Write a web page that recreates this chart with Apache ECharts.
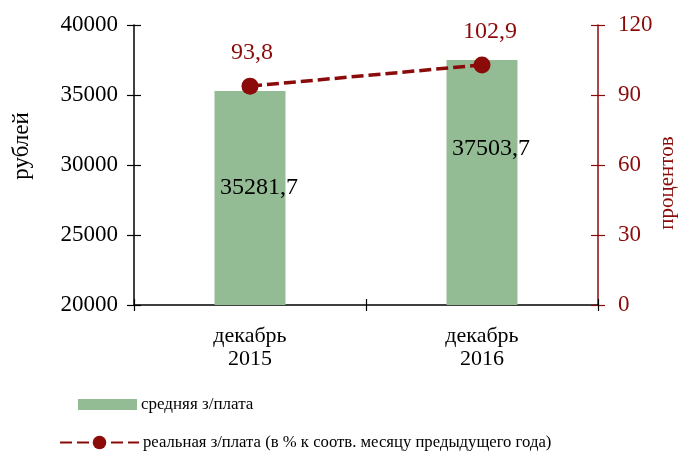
<!DOCTYPE html>
<html><head><meta charset="utf-8">
<script src="https://cdn.jsdelivr.net/npm/echarts@6/dist/echarts.min.js"></script>
<style>html,body{margin:0;padding:0;background:#fff}#c{width:678px;height:452px}</style>
</head><body><div id="c"></div>
<script>
const categories = ['декабрь\n2015', 'декабрь\n2016'];
const avgWage = [35281.7, 37503.7];
const realWage = [93.8, 102.9];
const leftTicks = [20000, 40000, 5000];
const rightTicks = [0, 120, 30];
const seriesNames = ['средняя з/плата', 'реальная з/плата (в % к соотв. месяцу предыдущего года)'];

const FONT = '"Liberation Serif", "Times New Roman", serif';
const GREEN = '#94bc94';
const RED = '#8b0a0a';
const barLabelOffsets = [[9, -10], [9, -34]];
const lineLabelOffsets = [[2, 0], [8, 0]];
const fmt = v => String(v).replace('.', ',');

const gridBox = { left: 134, right: 80, top: 25, bottom: 147 };
const hiddenLine = { show: true, lineStyle: { color: '#fff', opacity: 0 } };
const innerTick = (color, len) => ({ show: true, inside: true, length: len, lineStyle: { color: color, width: 1.2 } });

const chart = echarts.init(document.getElementById('c'));
chart.setOption({
  animation: false,
  textStyle: { fontFamily: FONT },
  grid: [Object.assign({}, gridBox), Object.assign({}, gridBox)],
  xAxis: [{
    type: 'category', data: categories, gridIndex: 0,
    axisLine: { lineStyle: { color: '#000', width: 1.5 } },
    axisTick: { show: true, length: 6, lineStyle: { color: '#000', width: 1.2 } },
    axisLabel: { color: '#000', fontSize: 22, fontFamily: FONT, lineHeight: 23, margin: 20 }
  }, {
    type: 'category', data: categories, gridIndex: 1, position: 'bottom',
    axisLine: hiddenLine, axisTick: innerTick('#000', 6), axisLabel: { show: false }
  }],
  yAxis: [{
    type: 'value', gridIndex: 0, min: leftTicks[0], max: leftTicks[1], interval: leftTicks[2],
    axisLine: { show: true, lineStyle: { color: '#000', width: 1.5 } },
    axisTick: { show: true, length: 7, lineStyle: { color: '#000', width: 1.2 } },
    axisLabel: { color: '#000', fontSize: 23, fontFamily: FONT, margin: 16, formatter: v => String(v) },
    splitLine: { show: false }
  }, {
    type: 'value', gridIndex: 0, min: rightTicks[0], max: rightTicks[1], interval: rightTicks[2], position: 'right',
    axisLine: { show: true, lineStyle: { color: RED, width: 1.5 } },
    axisTick: { show: true, length: 7, lineStyle: { color: RED, width: 1.2 } },
    axisLabel: { color: RED, fontSize: 23, fontFamily: FONT, margin: 20, formatter: v => String(v) },
    splitLine: { show: false }
  }, {
    type: 'value', gridIndex: 1, min: leftTicks[0], max: leftTicks[1], interval: leftTicks[2], position: 'left',
    axisLine: hiddenLine, axisTick: innerTick('#000', 7), axisLabel: { show: false }, splitLine: { show: false }
  }, {
    type: 'value', gridIndex: 1, min: rightTicks[0], max: rightTicks[1], interval: rightTicks[2], position: 'right',
    axisLine: hiddenLine, axisTick: innerTick(RED, 7), axisLabel: { show: false }, splitLine: { show: false }
  }],
  legend: [{
    data: [{ name: seriesNames[0], icon: 'rect' }], orient: 'vertical', left: 73, top: 391,
    itemWidth: 59, itemHeight: 11,
    textStyle: { fontSize: 17, fontFamily: FONT, color: '#000', padding: [8, 0, 0, -1] },
    selectedMode: false
  }, {
    data: [seriesNames[1]], orient: 'vertical', left: 54, top: 429,
    itemWidth: 79, itemHeight: 17,
    textStyle: { fontSize: 16.7, fontFamily: FONT, color: '#000', padding: [0, 0, 0, -1] },
    selectedMode: false
  }],
  graphic: [{
    type: 'text', x: 22, y: 146, rotation: Math.PI / 2,
    style: { text: 'рублей', font: '23px ' + FONT, fill: '#000', align: 'center', verticalAlign: 'middle' }
  }, {
    type: 'text', x: 667, y: 183, rotation: Math.PI / 2,
    style: { text: 'процентов', font: '21px ' + FONT, fill: RED, align: 'center', verticalAlign: 'middle' }
  }],
  series: [{
    name: seriesNames[0], type: 'bar', barWidth: 71, xAxisIndex: 0, yAxisIndex: 0,
    itemStyle: { color: GREEN },
    data: avgWage.map((v, i) => ({ value: v, label: { offset: barLabelOffsets[i] } })),
    label: { show: true, position: 'inside', color: '#000', fontSize: 24, fontFamily: FONT,
      formatter: p => fmt(p.value) }
  }, {
    name: seriesNames[1], type: 'line', xAxisIndex: 0, yAxisIndex: 1,
    data: realWage.map((v, i) => ({ value: v, label: { offset: lineLabelOffsets[i] } })),
    symbol: 'circle', symbolSize: 17,
    lineStyle: { color: RED, width: 3.5, type: [12, 5] },
    itemStyle: { color: RED },
    label: { show: true, position: 'top', distance: 13, color: RED, fontSize: 24, fontFamily: FONT,
      formatter: p => fmt(p.value) }
  }, {
    name: 'tickHelperA', type: 'line', xAxisIndex: 1, yAxisIndex: 2, data: avgWage,
    symbol: 'none', silent: true, lineStyle: { opacity: 0 }, z: 0
  }, {
    name: 'tickHelperB', type: 'line', xAxisIndex: 1, yAxisIndex: 3, data: realWage,
    symbol: 'none', silent: true, lineStyle: { opacity: 0 }, z: 0
  }]
});
</script></body></html>
